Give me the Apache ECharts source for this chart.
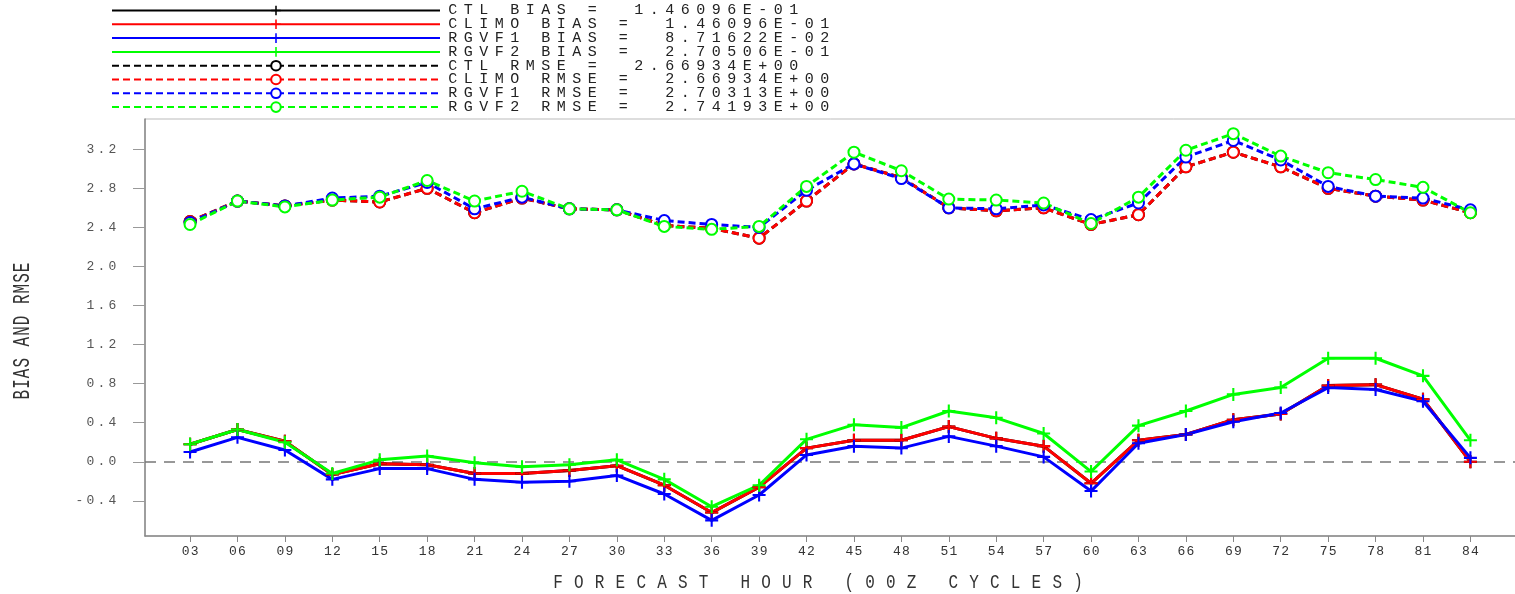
<!DOCTYPE html>
<html>
<head>
<meta charset="utf-8">
<script src="https://cdn.jsdelivr.net/npm/echarts@6/dist/echarts.min.js"></script>
<style>
  html, body { margin: 0; padding: 0; background: #fff; }
  #chart { width: 1515px; height: 594px; }
</style>
</head>
<body>
<div id="chart"></div>
<script>
// forecast hours (x axis)
const hours = [3, 6, 9, 12, 15, 18, 21, 24, 27, 30, 33, 36, 39, 42,
               45, 48, 51, 54, 57, 60, 63, 66, 69, 72, 75, 78, 81, 84];

// bias (solid lines, + marks)
const ctlBias   = [0.18, 0.33, 0.21, -0.13, -0.02, -0.03, -0.12, -0.12, -0.09, -0.04, -0.24, -0.52, -0.26, 0.14,
                   0.22, 0.22, 0.36, 0.24, 0.16, -0.22, 0.22, 0.28, 0.43, 0.49, 0.78, 0.79, 0.64, 0.00];
const climoBias = [0.18, 0.33, 0.21, -0.13, -0.02, -0.03, -0.12, -0.12, -0.09, -0.04, -0.24, -0.52, -0.26, 0.14,
                   0.22, 0.22, 0.36, 0.24, 0.16, -0.22, 0.22, 0.28, 0.43, 0.49, 0.78, 0.79, 0.64, 0.00];
const rgvf1Bias = [0.10, 0.25, 0.12, -0.18, -0.07, -0.07, -0.18, -0.21, -0.20, -0.14, -0.33, -0.60, -0.34, 0.07,
                   0.16, 0.14, 0.26, 0.16, 0.05, -0.30, 0.19, 0.28, 0.41, 0.50, 0.76, 0.74, 0.62, 0.04];
const rgvf2Bias = [0.18, 0.33, 0.20, -0.12, 0.02, 0.06, -0.01, -0.05, -0.03, 0.02, -0.18, -0.46, -0.24, 0.23,
                   0.38, 0.35, 0.52, 0.45, 0.29, -0.10, 0.37, 0.52, 0.69, 0.76, 1.06, 1.06, 0.88, 0.22];

// rmse (dashed lines, circle marks)
const ctlRmse   = [2.46, 2.67, 2.62, 2.68, 2.66, 2.80, 2.55, 2.70, 2.59, 2.58, 2.42, 2.39, 2.29, 2.67,
                   3.05, 2.91, 2.60, 2.57, 2.60, 2.43, 2.53, 3.02, 3.17, 3.02, 2.80, 2.72, 2.68, 2.55];
const climoRmse = [2.46, 2.67, 2.62, 2.68, 2.66, 2.80, 2.55, 2.70, 2.59, 2.58, 2.42, 2.39, 2.29, 2.67,
                   3.05, 2.91, 2.60, 2.57, 2.60, 2.43, 2.53, 3.02, 3.17, 3.02, 2.80, 2.72, 2.68, 2.55];
const rgvf1Rmse = [2.45, 2.67, 2.62, 2.70, 2.72, 2.86, 2.59, 2.71, 2.59, 2.58, 2.47, 2.43, 2.40, 2.78,
                   3.05, 2.90, 2.60, 2.59, 2.63, 2.48, 2.65, 3.12, 3.29, 3.09, 2.82, 2.72, 2.70, 2.58];
const rgvf2Rmse = [2.43, 2.67, 2.61, 2.68, 2.71, 2.88, 2.67, 2.77, 2.59, 2.58, 2.41, 2.38, 2.41, 2.82,
                   3.17, 2.98, 2.69, 2.68, 2.65, 2.44, 2.71, 3.19, 3.36, 3.13, 2.96, 2.89, 2.81, 2.55];

// legend names and the averages printed next to them
const seriesNames = ['CTL BIAS', 'CLIMO BIAS', 'RGVF1 BIAS', 'RGVF2 BIAS',
                     'CTL RMSE', 'CLIMO RMSE', 'RGVF1 RMSE', 'RGVF2 RMSE'];
const legendValues = ['1.46096E-01', '1.46096E-01', '8.71622E-02', '2.70506E-01',
                      '2.66934E+00', '2.66934E+00', '2.70313E+00', '2.74193E+00'];

// y tick labels
const yTicks = [-0.4, 0.0, 0.4, 0.8, 1.2, 1.6, 2.0, 2.4, 2.8, 3.2];

const seriesData = [ctlBias, climoBias, rgvf1Bias, rgvf2Bias, ctlRmse, climoRmse, rgvf1Rmse, rgvf2Rmse];
const colors = ['#000000', '#ff0000', '#0000ff', '#00ff00'];
const plusPath = 'path://M4.2,0H5.8V4.2H10V5.8H5.8V10H4.2V5.8H0V4.2H4.2Z';
const MONO = '"Liberation Mono", "DejaVu Sans Mono", monospace';

// wrap each char in a fixed-width rich token, the old plot font is widely spaced
function spaced(str, tag) {
  return str.split('').map(c => '{' + tag + '|' + c + '}').join('');
}

const chart = echarts.init(document.getElementById('chart'));

const series = seriesData.map((vals, i) => {
  const isBias = i < 4;
  const col = colors[i % 4];
  const s = {
    name: seriesNames[i],
    type: 'line',
    data: hours.map((h, k) => [h, vals[k]]),
    symbol: isBias ? plusPath : 'emptyCircle',
    symbolSize: isBias ? 13 : 11,
    showAllSymbol: true,
    lineStyle: { color: col, width: 3, type: isBias ? 'solid' : [7, 4] },
    itemStyle: { color: col, borderColor: col, borderWidth: isBias ? 0 : 2 },
    emphasis: { disabled: true },
    z: 3
  };
  if (i === 0) {
    // dashed zero reference line
    s.markLine = {
      silent: true,
      symbol: ['none', 'none'],
      label: { show: false },
      lineStyle: { color: '#777', type: [11, 8], width: 1.5 },
      data: [{ yAxis: 0 }],
      z: 1
    };
  }
  return s;
});

const option = {
  animation: false,
  backgroundColor: '#fff',
  legend: {
    data: seriesNames,
    orient: 'vertical',
    left: 106,
    top: 3,
    padding: [0, 5],
    itemWidth: 328,
    itemHeight: 12,
    itemGap: -1.2,
    selectedMode: false,
    formatter: name => spaced(name + ' =  ' + legendValues[seriesNames.indexOf(name)], 'c'),
    textStyle: {
      lineHeight: 12,
      fontSize: 12,
      rich: {
        c: { width: 15.5, align: 'center', fontFamily: MONO, fontSize: 15, color: '#222', lineHeight: 12, height: 12 }
      }
    }
  },
  grid: {
    left: 145, top: 119, right: -6, bottom: 58,
    show: true, borderColor: '#bbb', borderWidth: 1,
    outerBoundsMode: 'none'
  },
  xAxis: {
    type: 'value',
    min: 0.15,
    max: 87.2,
    splitLine: { show: false },
    axisLine: { show: true, onZero: false, lineStyle: { color: '#888', width: 1.5 } },
    axisTick: { show: true, customValues: hours, length: 6, lineStyle: { color: '#888' } },
    axisLabel: {
      customValues: hours,
      margin: 9,
      formatter: v => spaced(String(v).padStart(2, '0'), 'x'),
      rich: { x: { width: 9, align: 'center', fontFamily: MONO, fontSize: 13, color: '#333' } }
    }
  },
  yAxis: {
    type: 'value',
    min: -0.76,
    max: 3.51,
    splitLine: { show: false },
    axisLine: { show: true, onZero: false, lineStyle: { color: '#888', width: 1.5 } },
    axisTick: { show: true, customValues: yTicks, length: 12, lineStyle: { color: '#999' } },
    axisLabel: {
      customValues: yTicks,
      margin: 27,
      formatter: v => spaced(v.toFixed(1), 'y'),
      rich: { y: { width: 11, align: 'center', fontFamily: MONO, fontSize: 13, color: '#555' } }
    }
  },
  graphic: [
    {
      type: 'text',
      x: 818, y: 582,
      scaleY: 1.3,
      style: {
        text: spaced('FORECAST HOUR (00Z CYCLES)', 't'),
        align: 'center', verticalAlign: 'middle',
        fill: '#333',
        rich: { t: { width: 20.8, align: 'center', font: '16px ' + MONO, fill: '#333' } }
      }
    },
    {
      type: 'text',
      x: 22, y: 331,
      rotation: Math.PI / 2,
      scaleY: 1.55,
      style: {
        text: spaced('BIAS AND RMSE', 't'),
        align: 'center', verticalAlign: 'middle',
        fill: '#333',
        rich: { t: { width: 10.6, align: 'center', font: '16px ' + MONO, fill: '#333' } }
      }
    }
  ],
  series: series
};

chart.setOption(option);
</script>
</body>
</html>
